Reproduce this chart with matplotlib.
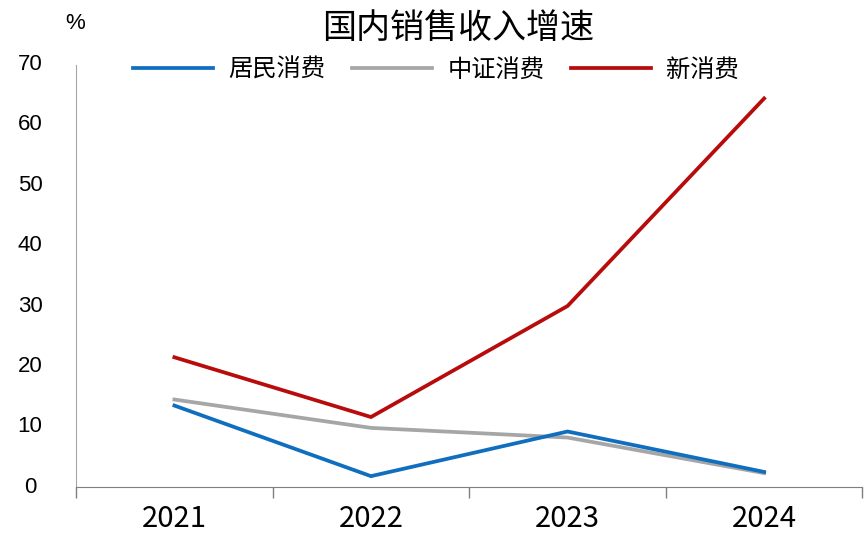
import numpy as np
import matplotlib
matplotlib.use('Agg')
import matplotlib.pyplot as plt

plt.rcParams['font.family'] = ['Noto Sans CJK SC', 'DejaVu Sans']

years = ['2021', '2022', '2023', '2024']
resident = [13.5, 1.8, 9.2, 2.5]      # 居民消费
csi = [14.5, 9.8, 8.2, 2.3]           # 中证消费
new_consume = [21.5, 11.6, 30.0, 64.4]  # 新消费

fig = plt.figure(figsize=(8.65, 5.55), dpi=100)
ax = fig.add_axes([0.088, 0.1225, 0.909, 0.761])

x = np.arange(len(years))
l1, = ax.plot(x, resident, color='#0F6EBE', lw=2.7, zorder=3, solid_joinstyle='miter')
l2, = ax.plot(x, csi, color='#A6A6A6', lw=2.7, zorder=2, solid_joinstyle='miter')
l3, = ax.plot(x, new_consume, color='#B80C0C', lw=2.7, zorder=4, solid_joinstyle='miter')

ax.set_xlim(-0.5, len(years) - 0.5)
ax.set_ylim(0, 70)
yt = np.arange(0, 71, 10)
ax.set_yticks(yt)
ax.set_yticklabels([])
# y labels centred at a fixed column left of the axis
for v in yt:
    ax.annotate(str(v), xy=(0, v), xycoords=('axes fraction', 'data'), xytext=(-46, 0),
                textcoords='offset pixels', ha='center', va='center', fontsize=16,
                family='Liberation Sans')
ax.tick_params(axis='y', length=0)

# category boundaries as major ticks, labels on minor ticks
ax.set_xticks(np.arange(-0.5, len(years), 1.0))
ax.set_xticklabels([])
ax.set_xticks(x, minor=True)
ax.set_xticklabels(years, minor=True, fontweight='medium')
ax.tick_params(axis='x', which='major', length=8, width=1, color='#7F7F7F', direction='out')
ax.tick_params(axis='x', which='minor', length=0, pad=12, labelsize=21)

for s in ['top', 'right']:
    ax.spines[s].set_visible(False)
ax.spines['left'].set_color('#A6A6A6')
ax.spines['bottom'].set_color('#7F7F7F')

fig.text(0.53, 0.948, '国内销售收入增速', ha='center', va='center', fontsize=24.5, fontweight='medium')
fig.text(0.087, 0.958, '%', ha='center', va='center', fontsize=16, family='Liberation Sans')

fig.legend([l1, l2, l3], ['居民消费', '中证消费', '新消费'], loc='center', bbox_to_anchor=(0.504, 0.874),
           ncol=3, frameon=False, fontsize=17.5, handlelength=3.3, columnspacing=1.1, handletextpad=0.62)

fig.savefig('out.png', dpi=100)
